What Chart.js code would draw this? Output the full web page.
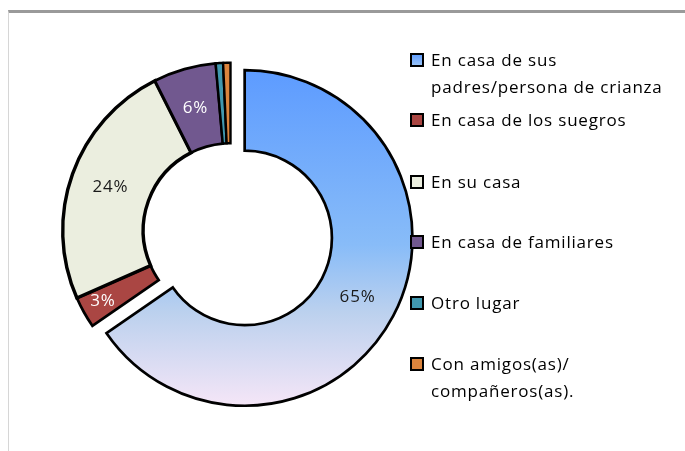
<!DOCTYPE html>
<html lang="es">
<head>
<meta charset="UTF-8" />
<script src="https://cdn.jsdelivr.net/npm/chart.js@4.4.0/dist/chart.umd.min.js"></script>
<style>
  html, body { margin: 0; padding: 0; background: #fff; }
  #frame {
    position: absolute; left: 8px; top: 10px; width: 677px; height: 441px;
    border-top: 3px solid #9a9a9a; border-left: 1px solid #d6d6d6; box-sizing: border-box;
  }
  #wrap { position: absolute; left: 0; top: 0; width: 685px; height: 451px; }
</style>
</head>
<body>
<div id="frame"></div>
<div id="wrap"><canvas id="donut" width="685" height="451"></canvas></div>
<script>
// categories (legend lines), values in %, colours
const categories = [
  ["En casa de sus", "padres/persona de crianza"],
  ["En casa de los suegros"],
  ["En su casa"],
  ["En casa de familiares"],
  ["Otro lugar"],
  ["Con amigos(as)/", "compañeros(as)."]
];
const percentages = [65, 3, 24, 6, 0.7, 0.7];
const sliceColors = ["#6aa6ff", "#aa4643", "#ebeedf", "#71588f", "#4198af", "#db843d"];
const labelColors = ["#1a1a1a", "#ffffff", "#1a1a1a", "#ffffff", "#ffffff", "#ffffff"];

const FONT = '17px "Open Sans", Lato, sans-serif';
const EXPLODE = 16; // px the first slice is pulled out

function firstSliceFill(context) {
  const chart = context.chart;
  const area = chart.chartArea;
  if (!area) return sliceColors[0];
  const cy = (area.top + area.bottom) / 2;
  const r = area.height / 2;
  const g = chart.ctx.createLinearGradient(0, cy - r + 6, 0, cy + r + 8);
  g.addColorStop(0, "#5e9cff");
  g.addColorStop(0.5, "#88bcf8");
  g.addColorStop(0.7, "#bcd1ee");
  g.addColorStop(1, "#fbe8f8");
  return g;
}

function setFont(ctx) {
  ctx.font = FONT;
  if ("letterSpacing" in ctx) ctx.letterSpacing = "0.8px";
}

function shiftOf(i) {
  return i === 0 ? EXPLODE : 0;
}

// draw the arcs ourselves so the first one is pulled out without growing
const explodeSlice = {
  id: "explodeSlice",
  beforeDatasetDraw(chart, args) {
    const ctx = chart.ctx;
    args.meta.data.forEach((arc, i) => {
      const mid = (arc.startAngle + arc.endAngle) / 2;
      ctx.save();
      ctx.translate(Math.cos(mid) * shiftOf(i), Math.sin(mid) * shiftOf(i));
      arc.draw(ctx, chart.chartArea);
      ctx.restore();
    });
    return false;
  }
};

// percent labels inside the ring
const sliceLabels = {
  id: "sliceLabels",
  afterDatasetsDraw(chart) {
    const ctx = chart.ctx;
    const arcs = chart.getDatasetMeta(0).data;
    ctx.save();
    setFont(ctx);
    ctx.textAlign = "center";
    ctx.textBaseline = "middle";
    arcs.forEach((arc, i) => {
      if (percentages[i] < 2) return;
      const p = arc.getProps(["x", "y", "startAngle", "endAngle", "innerRadius", "outerRadius"]);
      const mid = (p.startAngle + p.endAngle) / 2;
      const frac = i === 1 ? 0.73 : 0.5;
      const r = p.innerRadius + (p.outerRadius - p.innerRadius) * frac + shiftOf(i);
      ctx.fillStyle = labelColors[i];
      ctx.fillText(Math.round(percentages[i]) + "%", p.x + Math.cos(mid) * r, p.y + Math.sin(mid) * r);
    });
    ctx.restore();
  }
};

// legend on the right, like the spreadsheet one
const sideLegend = {
  id: "sideLegend",
  afterDraw(chart) {
    const ctx = chart.ctx;
    const boxX = 411, textX = 431, box = 12, lineH = 27;
    const rowY = [60, 120, 182, 242, 303, 364];
    ctx.save();
    setFont(ctx);
    ctx.textBaseline = "middle";
    categories.forEach((lines, i) => {
      const y = rowY[i];
      if (i === 0) {
        const g = ctx.createLinearGradient(0, y - box / 2, 0, y + box / 2);
        g.addColorStop(0, "#5e9cff");
        g.addColorStop(1, "#9cc6f6");
        ctx.fillStyle = g;
      } else {
        ctx.fillStyle = sliceColors[i];
      }
      ctx.fillRect(boxX, y - box / 2, box, box);
      ctx.lineWidth = 2;
      ctx.strokeStyle = "#000";
      ctx.strokeRect(boxX, y - box / 2, box, box);
      ctx.fillStyle = "#000";
      lines.forEach((t, k) => ctx.fillText(t, textX, y + 1 + k * lineH));
    });
    ctx.restore();
  }
};

new Chart(document.getElementById("donut"), {
  type: "doughnut",
  data: {
    labels: categories.map(l => l.join(" ")),
    datasets: [{
      data: percentages,
      backgroundColor: (c) => c.dataIndex === 0 ? firstSliceFill(c) : sliceColors[c.dataIndex],
      borderColor: "#000",
      borderWidth: [2.7, 2.7, 3.4, 2.7, 2.4, 2.4],
      borderJoinStyle: "miter",
      hoverOffset: 0
    }]
  },
  options: {
    responsive: false,
    animation: false,
    cutout: "52%",
    layout: { padding: { left: 61, top: 61, right: 285, bottom: 51 } },
    plugins: {
      legend: { display: false },
      tooltip: { enabled: false }
    },
    events: []
  },
  plugins: [explodeSlice, sliceLabels, sideLegend]
});
</script>
</body>
</html>
